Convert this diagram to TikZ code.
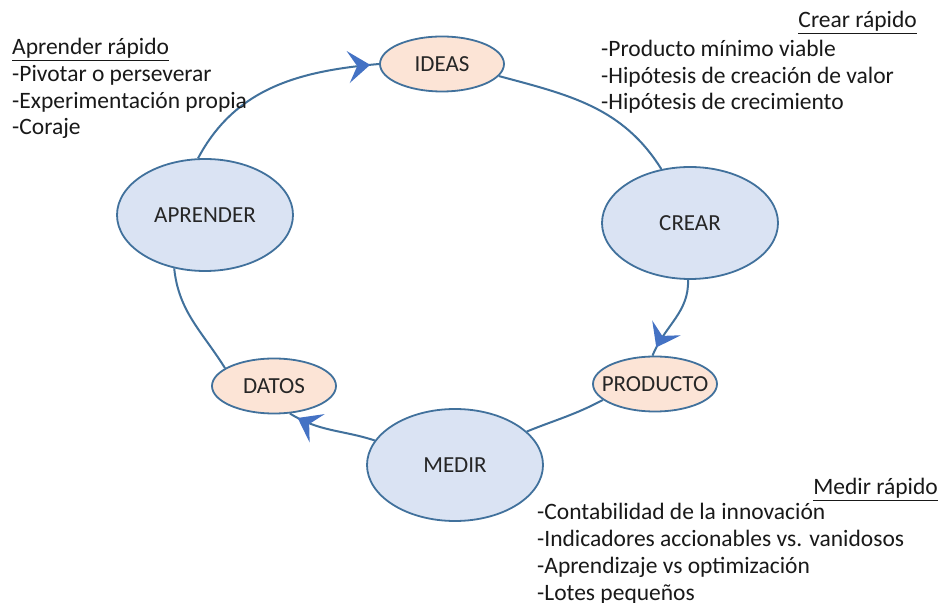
\documentclass[tikz,border=0pt]{standalone}
\usepackage{fontspec}
\setmainfont{Carlito}
\usetikzlibrary{arrows.meta,shapes.geometric,decorations.markings}
\definecolor{rimblue}{HTML}{41719C}
\definecolor{tipblue}{HTML}{4472C4}
\definecolor{peach}{HTML}{FCE4D6}
\definecolor{paleblue}{HTML}{DAE3F3}

\begin{document}
\begin{tikzpicture}[x=1pt,y=1pt,
  step node/.style={ellipse,draw=rimblue,line width=1.8pt,fill=peach,text=black!85,
    minimum width=124pt,minimum height=55pt,inner sep=0pt,inner xsep=-16pt,
    font=\fontsize{23}{26}\selectfont},
  phase node/.style={step node,fill=paleblue,minimum width=176pt,minimum height=112pt},
  loop line/.style={draw=rimblue,line width=2pt},
  flow/.style={loop line,postaction={decorate},decoration={markings,
    mark=at position -9pt with {\arrow{Stealth[length=22pt,width=32pt,inset=9pt,color=tipblue]}}}},
  note/.style={inner sep=0pt,align=left,text=black!90,font=\fontsize{23.5}{26.7}\selectfont}]

  \useasboundingbox[fill=white] (0,0) rectangle (941,602);

  \node[step node] (ideas) at (442,538) {IDEAS};
  \node[phase node] (crear) at (690,379) {CREAR};
  \node[step node] (producto) at (655,218) {PRODUCTO};
  \node[phase node] (medir) at (455,137) {MEDIR};
  \node[step node] (datos) at (274,216) {DATOS};
  \node[phase node] (aprender) at (205,387) {APRENDER};

  \path
      (ideas.-12) edge[loop line,out=-15,in=122] (crear.118)
      (crear.-92) edge[flow,out=-88,in=68] (producto.95)
      (producto.197) edge[loop line,out=-152,in=22] (medir.25)
      (medir.163) edge[flow,out=162,in=-32] (datos.-60)
      (datos.160) edge[loop line,out=122,in=-84] (aprender.240)
      (aprender.97) edge[flow,out=62,in=185] (ideas.180);

  \node[note,anchor=base west] (aprendertxt) at (12,467)
    {\underline{Aprender rápido}\\-Pivotar o perseverar\\-Experimentación propia\\-Coraje};
  \node[note,anchor=base east] (creartitle) at (917,574) {\underline{Crear rápido}};
  \node[note,anchor=base west] (creartxt) at (601,492)
    {-Producto mínimo viable\\-Hipótesis de creación de valor\\-Hipótesis de crecimiento};
  \node[note,anchor=base east] (medirtitle) at (938,107) {\underline{Medir rápido}};
  \node[note,anchor=base west] (medirtxt) at (537,2)
    {-Contabilidad de la innovación\\-Indicadores accionables vs. vanidosos\\-Aprendizaje vs optimización\\-Lotes pequeños};
\end{tikzpicture}
\end{document}
